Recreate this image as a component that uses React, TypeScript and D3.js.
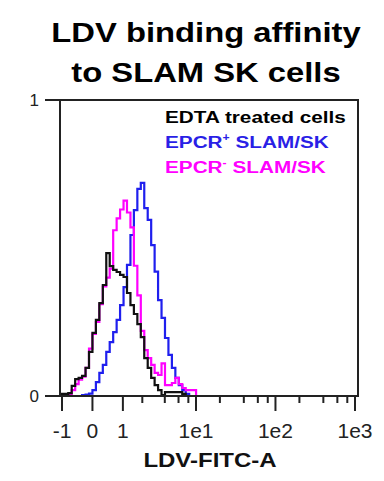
import React, { useRef, useEffect } from 'react';
import * as d3 from 'd3';

// histogram bin lower edges (FITC units, asinh-spaced channels)
const binEdges = [
  -1.027, -0.888, -0.759, -0.637, -0.521, -0.411, -0.305, -0.201, -0.1, 0,
  0.1, 0.201, 0.305, 0.411, 0.521, 0.637, 0.759, 0.888, 1.027, 1.175,
  1.336, 1.509, 1.698, 1.904, 2.129, 2.376, 2.646, 2.942, 3.268, 3.627,
  4.022, 4.457, 4.937, 5.466, 6.05, 6.695, 7.406, 8.192, 9.06, 10.018,
  11.076, 12.246,
];

const edtaCounts = [
  0.007, 0.007, 0.01, 0.034, 0.057, 0.061, 0.068, 0.095, 0.149, 0.213,
  0.257, 0.314, 0.375, 0.483, 0.439, 0.426, 0.419, 0.409, 0.402, 0.348,
  0.307, 0.277, 0.243, 0.199, 0.128, 0.095, 0.061, 0.037, 0.02, 0.003,
  0.013, 0.013, 0.013, 0.013, 0.013, 0.007, 0, 0, 0, 0, 0,
];

const epcrPosCounts = [
  0, 0, 0, 0, 0, 0, 0.003, 0.005, 0.008, 0.02,
  0.047, 0.078, 0.105, 0.149, 0.182, 0.216, 0.257, 0.307, 0.368, 0.443,
  0.544, 0.628, 0.7, 0.72, 0.635, 0.595, 0.51, 0.42, 0.324, 0.264,
  0.196, 0.139, 0.095, 0.061, 0.037, 0.02, 0.007, 0, 0, 0, 0,
];

const epcrNegCounts = [
  0, 0, 0.003, 0.02, 0.04, 0.055, 0.065, 0.095, 0.16, 0.21,
  0.25, 0.31, 0.37, 0.4, 0.43, 0.56, 0.6, 0.63, 0.66, 0.62,
  0.57, 0.44, 0.34, 0.22, 0.155, 0.128, 0.105, 0.078, 0.071, 0.11,
  0.037, 0.037, 0.044, 0.061, 0.04, 0.027, 0.02, 0.02, 0.02, 0, 0,
];

const majorTicks = [-1, 0, 1, 10, 100, 1000];
const majorLabels = ['-1', '0', '1', '1e1', '1e2', '1e3'];
const minorTicks = [2, 4, 6, 8, 20, 40, 60, 80, 200, 400, 600, 800];
const yTicks = [0, 1];

const FONT = '"Liberation Sans", Arial, sans-serif';

const App = () => {
  const svgRef = useRef<SVGSVGElement>(null);

  useEffect(() => {
    const svg = d3.select(svgRef.current);
    svg.selectAll('*').remove();

    const left = 60, right = 358, top = 100, bottom = 396;

    // biexponential-like display: linear in asinh space
    const xLin = d3.scaleLinear()
      .domain([Math.asinh(-1), Math.asinh(1000)])
      .range([62, 355]);
    const x = (v: number) => xLin(Math.asinh(v));
    const y = d3.scaleLinear().domain([0, 1]).range([bottom, top]);

    // title
    const title = ['LDV binding affinity', 'to SLAM SK cells'];
    title.forEach((t, i) => {
      svg.append('text')
        .attr('transform', `translate(206,${42 + i * 40}) scale(1.17,1)`)
        .attr('text-anchor', 'middle')
        .attr('font-family', FONT)
        .attr('font-weight', 'bold')
        .attr('font-size', 28)
        .attr('fill', '#000')
        .text(t);
    });

    const line = d3.line<[number, number]>()
      .x(d => x(d[0]))
      .y(d => y(d[1]))
      .curve(d3.curveStepAfter);

    const series = [
      { counts: epcrPosCounts, color: '#1f1fee' },
      { counts: epcrNegCounts, color: '#ff00ff' },
      { counts: edtaCounts, color: '#111' },
    ];

    series.forEach(s => {
      const pts: [number, number][] = [[binEdges[0], 0]];
      s.counts.forEach((c, i) => pts.push([binEdges[i], c]));
      pts.push([binEdges[binEdges.length - 1], 0]);
      svg.append('path')
        .attr('d', line(pts))
        .attr('fill', 'none')
        .attr('stroke', s.color)
        .attr('stroke-width', 2.2);
    });

    // frame
    svg.append('rect')
      .attr('x', left).attr('y', top)
      .attr('width', right - left).attr('height', bottom - top)
      .attr('fill', 'none')
      .attr('stroke', '#222')
      .attr('stroke-width', 2);

    // y axis ticks
    yTicks.forEach(t => {
      svg.append('line')
        .attr('x1', 45).attr('x2', left)
        .attr('y1', y(t)).attr('y2', y(t))
        .attr('stroke', '#222').attr('stroke-width', 2);
      svg.append('text')
        .attr('x', 39).attr('y', y(t) + 6)
        .attr('text-anchor', 'end')
        .attr('font-family', FONT)
        .attr('font-size', 17)
        .attr('fill', '#222')
        .text(String(t));
    });

    // x axis ticks
    majorTicks.forEach((t, i) => {
      svg.append('line')
        .attr('x1', x(t)).attr('x2', x(t))
        .attr('y1', bottom).attr('y2', bottom + 15)
        .attr('stroke', '#222').attr('stroke-width', 2);
      svg.append('text')
        .attr('x', x(t)).attr('y', 438)
        .attr('text-anchor', 'middle')
        .attr('font-family', FONT)
        .attr('font-size', 21)
        .attr('fill', '#222')
        .text(majorLabels[i]);
    });
    minorTicks.forEach(t => {
      svg.append('line')
        .attr('x1', x(t)).attr('x2', x(t))
        .attr('y1', bottom).attr('y2', bottom + 7)
        .attr('stroke', '#222').attr('stroke-width', 2);
    });

    svg.append('text')
      .attr('transform', 'translate(210,467) scale(1.2,1)')
      .attr('text-anchor', 'middle')
      .attr('font-family', FONT)
      .attr('font-weight', 'bold')
      .attr('font-size', 20)
      .attr('fill', '#111')
      .text('LDV-FITC-A');

    // legend
    const legend = [
      { name: 'EDTA treated cells', sup: '', rest: '', color: '#000' },
      { name: 'EPCR', sup: '+', rest: ' SLAM/SK', color: '#2a1fe6' },
      { name: 'EPCR', sup: '-', rest: ' SLAM/SK', color: '#ff00ff' },
    ];
    legend.forEach((l, i) => {
      const t = svg.append('text')
        .attr('transform', `translate(165,${123 + i * 25}) scale(1.22,1)`)
        .attr('font-family', FONT)
        .attr('font-weight', 'bold')
        .attr('font-size', 17)
        .attr('fill', l.color);
      t.append('tspan').text(l.name);
      if (l.sup) {
        t.append('tspan').attr('font-size', 10).attr('dy', -7).text(l.sup);
        t.append('tspan').attr('dy', 7).text(l.rest);
      }
    });
  }, []);

  return (
    <svg
      ref={svgRef}
      width={384}
      height={481}
      style={{ position: 'absolute', left: 0, top: 0, background: '#fff' }}
    ></svg>
  );
};

export default App;
